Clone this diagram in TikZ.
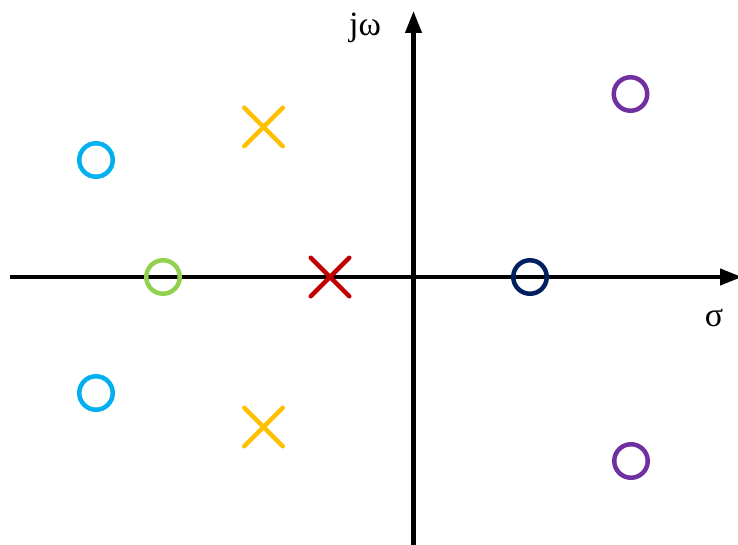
\documentclass[tikz,border=0pt]{standalone}
\usepackage{fontspec}
\setmainfont{Liberation Serif}
\usetikzlibrary{arrows.meta,shapes.misc}

\definecolor{zblue}{HTML}{00B0F0}
\definecolor{zgreen}{HTML}{92D050}
\definecolor{pyellow}{HTML}{FFC000}
\definecolor{pred}{HTML}{C00000}
\definecolor{znavy}{HTML}{002060}
\definecolor{zpurple}{HTML}{7030A0}

\begin{document}
\begin{tikzpicture}[x=1pt,y=-1pt,
  axis/.style={line width=4.2pt,-{Triangle[length=22pt,width=16pt]}},
  zero/.style={circle,draw,line width=4.5pt,minimum size=33.5pt,inner sep=0pt},
  pole/.style={cross out,draw,line width=4.5pt,line cap=round,minimum size=34pt,inner sep=0pt},
  lbl/.style={font=\fontsize{34}{36}\selectfont,inner sep=0pt}]
\useasboundingbox (0,0) rectangle (738,545);

% axes of the s-plane
\coordinate (xl) at (10,277);
\coordinate (xr) at (742,277);
\coordinate (yb) at (413.5,546);
\coordinate (yt) at (413.5,11);
\draw[axis] (xl) -- (xr);
\draw[axis] (yb) -- (yt);

% axis labels
\node[lbl] (jw) at (365,28) {jω};
\node[lbl] (sigma) at (714,318) {σ};

% zeros
\node[zero,draw=zblue] (z1) at (96,160) {};
\node[zero,draw=zblue] (z2) at (96,393) {};
\node[zero,draw=zgreen] (z3) at (163,277) {};
\node[zero,draw=znavy] (z4) at (530,277) {};
\node[zero,draw=zpurple] (z5) at (630.5,94) {};
\node[zero,draw=zpurple] (z6) at (631,461) {};

% poles
\node[pole,draw=pyellow] (p1) at (263.5,127) {};
\node[pole,draw=pyellow] (p2) at (263.5,427) {};
\node[pole,draw=pred] (p3) at (330,277) {};
\end{tikzpicture}
\end{document}
